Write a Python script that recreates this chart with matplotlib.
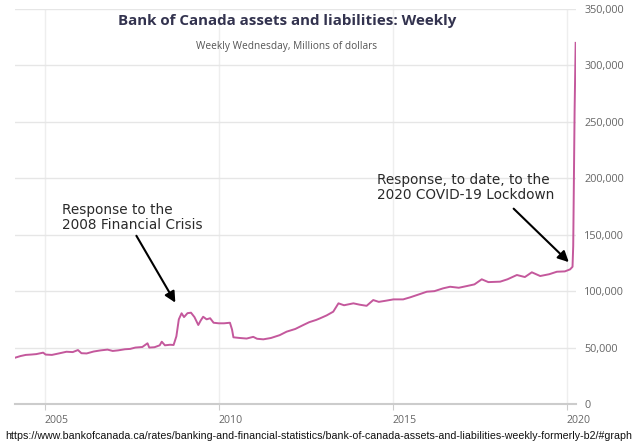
import matplotlib
matplotlib.use("Agg")
import matplotlib.pyplot as plt
import numpy as np

# Decimal year and weekly assets (thousands of millions -> millions)
years = [2004.14, 2004.3, 2004.45, 2004.6, 2004.75, 2004.95, 2005.02, 2005.2, 2005.4, 2005.62,
         2005.8, 2005.95, 2006.05, 2006.2, 2006.4, 2006.6, 2006.8, 2006.95, 2007.1, 2007.3,
         2007.45, 2007.6, 2007.8, 2007.95, 2008.0, 2008.15, 2008.3, 2008.36, 2008.45, 2008.6,
         2008.7, 2008.78, 2008.85, 2008.93, 2009.0, 2009.1, 2009.2, 2009.3, 2009.41, 2009.48,
         2009.55, 2009.65, 2009.75, 2009.85, 2010.0, 2010.15, 2010.32, 2010.38, 2010.42, 2010.6,
         2010.8, 2010.99, 2011.1, 2011.28, 2011.5, 2011.75, 2011.95, 2012.2, 2012.43, 2012.6,
         2012.8, 2012.91, 2013.1, 2013.29, 2013.44, 2013.6, 2013.87, 2014.05, 2014.25, 2014.44,
         2014.6, 2014.8, 2015.02, 2015.3, 2015.5, 2015.79, 2015.98, 2016.2, 2016.45, 2016.65,
         2016.9, 2017.13, 2017.35, 2017.56, 2017.75, 2018.09, 2018.3, 2018.57, 2018.8, 2019.0,
         2019.24, 2019.5, 2019.72, 2019.95, 2020.10, 2020.17, 2020.19, 2020.21, 2020.23, 2020.25,
         2020.26]
assets_k = [41.0, 42.5, 43.5, 43.8, 44.2, 45.5, 43.8, 43.5, 44.8, 46.3,
            46.0, 47.8, 45.0, 44.8, 46.5, 47.5, 48.2, 47.0, 47.5, 48.5,
            48.8, 50.0, 50.5, 53.8, 50.0, 50.3, 52.0, 55.2, 52.0, 52.5,
            52.3, 60.0, 75.0, 80.4, 77.0, 80.5, 80.9, 77.0, 70.0, 74.0,
            77.3, 75.0, 76.0, 72.0, 71.5, 71.5, 72.0, 66.0, 59.1, 58.5,
            58.0, 59.5, 57.8, 57.3, 58.5, 61.0, 64.1, 66.5, 70.0, 72.5,
            74.5, 75.9, 78.5, 81.8, 89.2, 87.5, 89.2, 88.0, 87.0, 92.1,
            90.5, 91.5, 92.7, 92.7, 94.5, 97.5, 99.5, 100.0, 102.5, 103.9,
            103.0, 104.5, 106.0, 110.5, 108.0, 108.4, 110.5, 114.3, 112.5, 116.7,
            113.4, 115.0, 117.2, 117.5, 119.3, 121.6, 140.0, 200.0, 260.0, 300.0,
            320.0]
assets = [v * 1000 for v in assets_k]

xticks = [2005, 2010, 2015, 2020]
yticks = [0, 50000, 100000, 150000, 200000, 250000, 300000, 350000]

title = "Bank of Canada assets and liabilities: Weekly"
subtitle = "Weekly Wednesday, Millions of dollars"
source = "https://www.bankofcanada.ca/rates/banking-and-financial-statistics/bank-of-canada-assets-and-liabilities-weekly-formerly-b2/#graph"
note1 = "Response to the\n2008 Financial Crisis"
note2 = "Response, to date, to the\n2020 COVID-19 Lockdown"

W, H = 640, 446
fig = plt.figure(figsize=(W / 100, H / 100), dpi=100)
fig.patch.set_facecolor("white")
ax = fig.add_axes([15 / W, 42 / H, 561 / W, 395 / H])
ax.set_xlim(2004.14, 2020.27)
ax.set_ylim(0, 350000)

ax.plot(years, assets, color="#c4589c", lw=1.4, zorder=3)

for s in ["left", "right", "top"]:
    ax.spines[s].set_visible(False)
ax.spines["bottom"].set_color("#cccccc")
ax.spines["bottom"].set_linewidth(1.5)

ax.set_xticks(xticks)
ax.set_xticklabels([str(t) for t in xticks])
ax.set_yticks(yticks)
ax.set_yticklabels([f"{t:,}" for t in yticks])
ax.yaxis.tick_right()
ax.tick_params(axis="y", length=0, pad=6, labelsize=7.8, labelcolor="#666666")
ax.tick_params(axis="x", length=4, color="#cccccc", pad=4, labelsize=7.6, labelcolor="#666666")
for lab in ax.get_xticklabels():
    lab.set_ha("left")
for lab in ax.get_xticklabels() + ax.get_yticklabels():
    lab.set_family("Open Sans")

ax.grid(axis="y", color="#e6e6e6", lw=1)
ax.grid(axis="x", color="#eeeeee", lw=1)
ax.set_axisbelow(True)

fig.text(287 / W, 1 - 21 / H, title, ha="center", va="center", fontsize=10.9,
         fontweight="bold", family="Open Sans", color="#33334f")
fig.text(287 / W, 1 - 46 / H, subtitle, ha="center", va="center", fontsize=7.3,
         family="Open Sans", color="#555555")
fig.text(319 / W, 1 - 436 / H, source, ha="center", va="center", fontsize=7.7,
         family="Liberation Sans", color="#111111")

ax.annotate("", xy=(2008.79, 87700), xytext=(2007.59, 151200),
            arrowprops=dict(arrowstyle="-|>", color="black", lw=1.5, mutation_scale=16))
ax.annotate("", xy=(2020.12, 124000), xytext=(2018.42, 174800),
            arrowprops=dict(arrowstyle="-|>", color="black", lw=1.5, mutation_scale=16))
ax.text(2005.48, 178400, note1, ha="left", va="top", fontsize=9.8, color="#2a2a2a",
        family="DejaVu Sans", linespacing=1.1)
ax.text(2014.54, 204400, note2, ha="left", va="top", fontsize=9.8, color="#2a2a2a",
        family="DejaVu Sans", linespacing=1.1)

fig.savefig("out.png", dpi=100, facecolor="white")
